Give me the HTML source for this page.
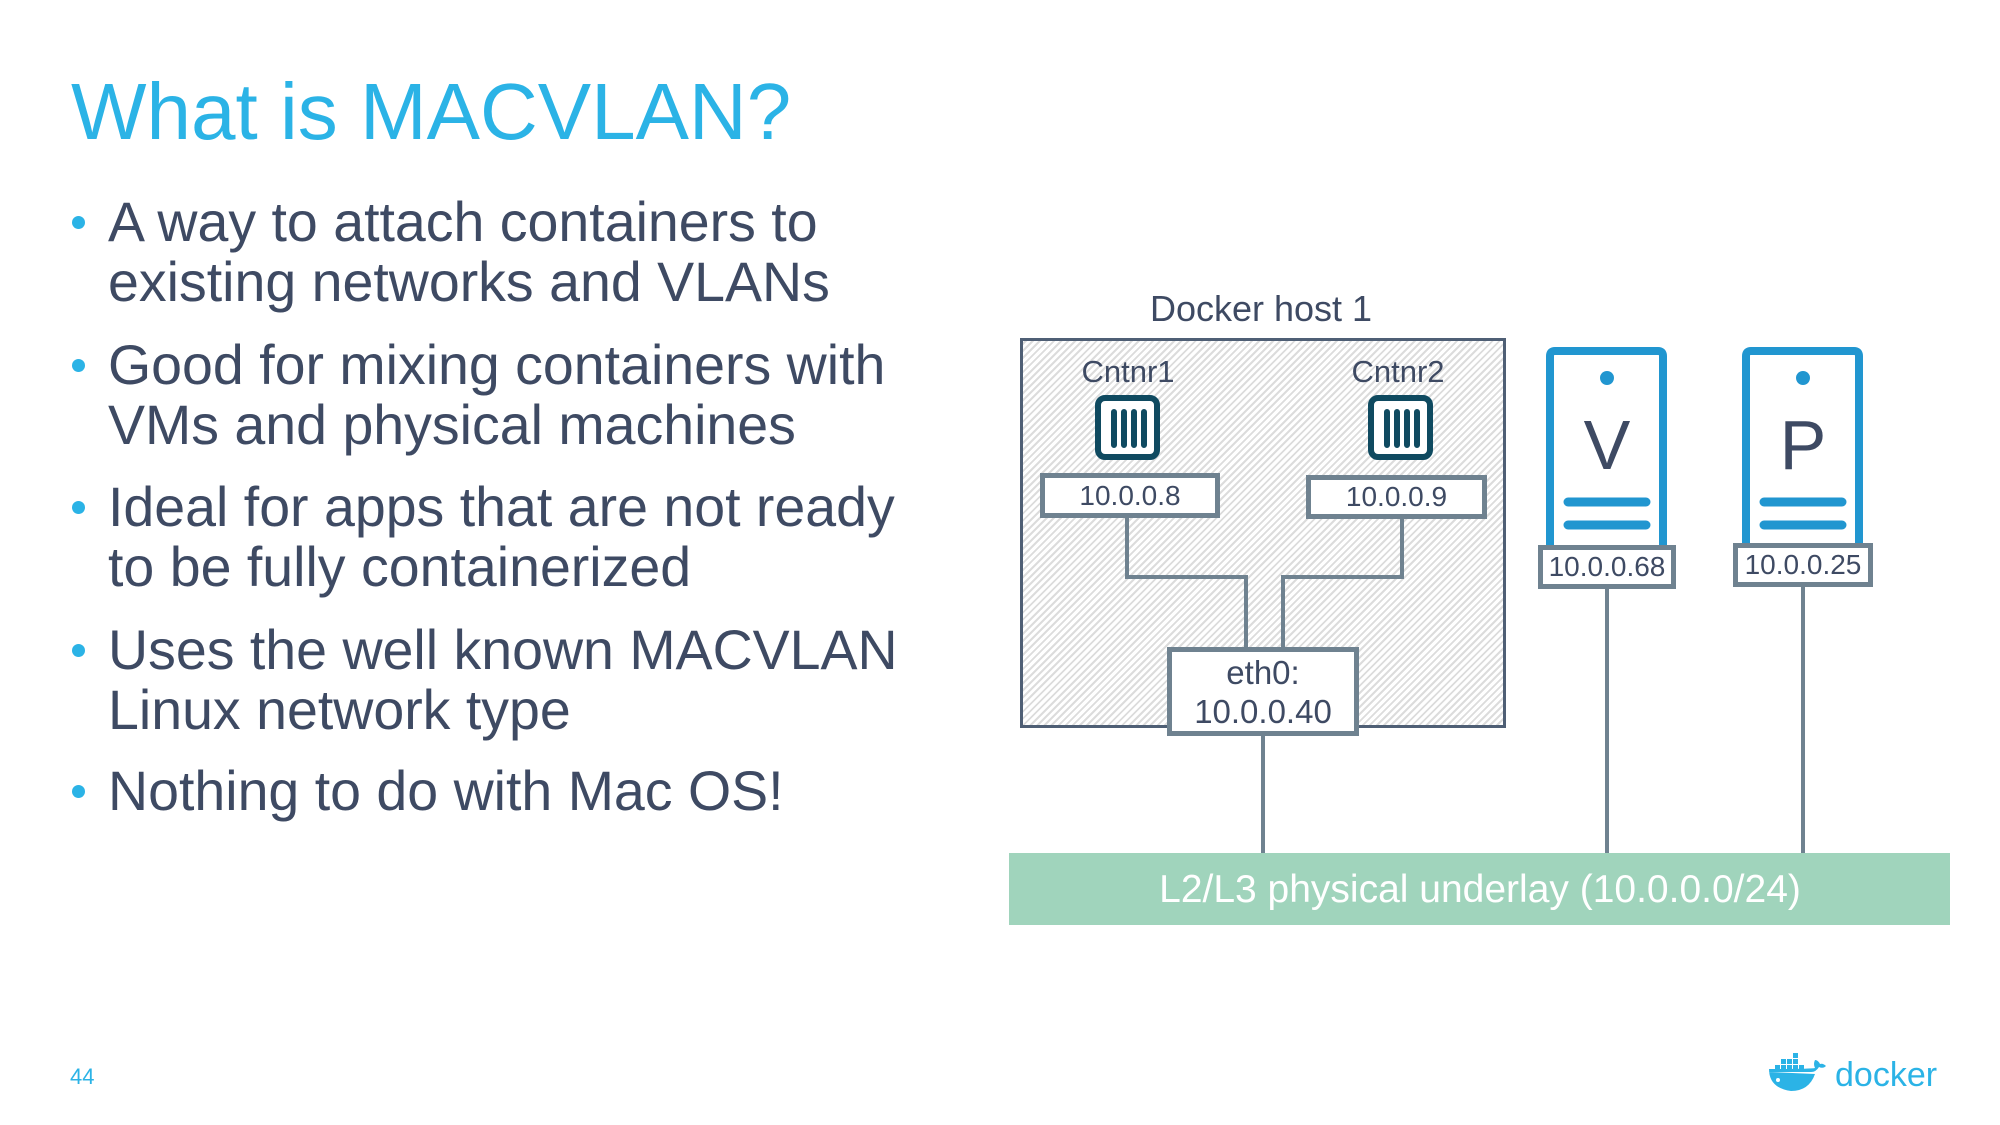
<!DOCTYPE html>
<html><head><meta charset="utf-8"><style>
body{margin:0;width:2000px;height:1125px;background:#fff;overflow:hidden;font-family:"Liberation Sans",sans-serif;position:relative}
.a{position:absolute}
.t{position:absolute;white-space:nowrap}
.b{color:#3e4a63;font-size:55.5px;left:108px;line-height:60px}
.d{position:absolute;left:72px;width:13px;height:13px;border-radius:50%;background:#2bb3e6}
.box{position:absolute;background:#fff;border:5px solid #6f8290;box-sizing:border-box;text-align:center;color:#3e4a63;font-size:28px}
.ln{position:absolute;background:#6f8290}
</style></head><body>
<div class="t" style="left:71px;top:66px;font-size:80px;color:#2bb3e6">What is MACVLAN?</div>

<div class="t b" style="top:192px">A way to attach containers to<br>existing networks and VLANs</div>
<div class="d" style="top:216px"></div>
<div class="t b" style="top:335px">Good for mixing containers with<br>VMs and physical machines</div>
<div class="d" style="top:359px"></div>
<div class="t b" style="top:477px">Ideal for apps that are not ready<br>to be fully containerized</div>
<div class="d" style="top:501px"></div>
<div class="t b" style="top:620px">Uses the well known MACVLAN<br>Linux network type</div>
<div class="d" style="top:644px"></div>
<div class="t b" style="top:761px">Nothing to do with Mac OS!</div>
<div class="d" style="top:785px"></div>

<div class="t" style="left:1261px;top:288px;transform:translateX(-50%);font-size:36px;color:#3e4a63">Docker host 1</div>
<div class="a" style="left:1020px;top:338px;width:486px;height:390px;box-sizing:border-box;border:3px solid #4f5f75;background:repeating-linear-gradient(-45deg,#fff 0 3px,#dcdcdc 3px 5px)"></div>
<div class="t" style="left:1128px;top:354px;transform:translateX(-50%);font-size:31px;color:#3e4a63">Cntnr1</div>
<div class="t" style="left:1398px;top:354px;transform:translateX(-50%);font-size:31px;color:#3e4a63">Cntnr2</div>

<svg class="a" style="left:0;top:0" width="2000" height="1125">
<g fill="#fff" stroke="#0f4a60" stroke-width="6" stroke-linecap="round">
<rect x="1098" y="398" width="59" height="59" rx="7"/>
<rect x="1371" y="398" width="59" height="59" rx="7"/>
<path d="M1114 412v33M1124 412v33M1134 412v33M1144 412v33M1387 412v33M1397 412v33M1407 412v33M1417 412v33" fill="none"/>
</g>
<g fill="none" stroke="#2196d0" stroke-width="8">
<path d="M1550 552V356q0-5 5-5h103q5 0 5 5V552"/>
<path d="M1746 552V356q0-5 5-5h103q5 0 5 5V552"/>
</g>
<g stroke="#2196d0" stroke-width="9" stroke-linecap="round">
<path d="M1568 502h78M1568 525h78M1764 502h78M1764 525h78"/>
</g>
<circle cx="1607" cy="378" r="7" fill="#2196d0"/>
<circle cx="1803" cy="378" r="7" fill="#2196d0"/>
<text x="1607" y="469" text-anchor="middle" font-family="Liberation Sans" font-size="70" fill="#3e4a63">V</text>
<text x="1803" y="469" text-anchor="middle" font-family="Liberation Sans" font-size="70" fill="#3e4a63">P</text>
<g stroke="#6f8290" stroke-width="4" fill="none">
<path d="M1127 515v62h119v72"/>
<path d="M1402 515v62h-119v72"/>
<path d="M1263 733v122"/>
<path d="M1607 586v269"/>
<path d="M1803 586v269"/>
</g>
<g fill="#2bb3e6">
<path d="M1769 1072h42q5 0 8-5q4 2 7-1q-3-3-6-2q-2-4-5-4q-2 4 0 8q-4 1-46 1q0 19 22 22q18 0 24-17z"/>
<rect x="1775" y="1065" width="5" height="5"/><rect x="1781" y="1065" width="5" height="5"/><rect x="1787" y="1065" width="5" height="5"/><rect x="1793" y="1065" width="5" height="5"/><rect x="1799" y="1065" width="5" height="5"/>
<rect x="1781" y="1059" width="5" height="5"/><rect x="1787" y="1059" width="5" height="5"/><rect x="1793" y="1059" width="5" height="5"/>
<rect x="1793" y="1053" width="5" height="5"/>
</g>
<circle cx="1778" cy="1080" r="2" fill="#fff"/>
<text x="1835" y="1086" font-family="Liberation Sans" font-size="34" fill="#2bb3e6">docker</text>
</svg>

<div class="box" style="left:1040px;top:473px;width:180px;height:45px;line-height:35px">10.0.0.8</div>
<div class="box" style="left:1306px;top:475px;width:181px;height:44px;line-height:34px">10.0.0.9</div>
<div class="box" style="left:1167px;top:647px;width:192px;height:89px;line-height:39px;padding-top:1px;font-size:33px">eth0:<br>10.0.0.40</div>
<div class="box" style="left:1538px;top:545px;width:138px;height:44px;line-height:34px">10.0.0.68</div>
<div class="box" style="left:1733px;top:543px;width:140px;height:44px;line-height:34px">10.0.0.25</div>

<div class="a" style="left:1009px;top:853px;width:941px;height:72px;background:#a0d4bc"></div>
<div class="t" style="left:1480px;top:868px;transform:translateX(-50%);font-size:39px;color:#fff">L2/L3 physical underlay (10.0.0.0/24)</div>

<div class="t" style="left:70px;top:1064px;font-size:22px;color:#2bb3e6">44</div>
</body></html>
